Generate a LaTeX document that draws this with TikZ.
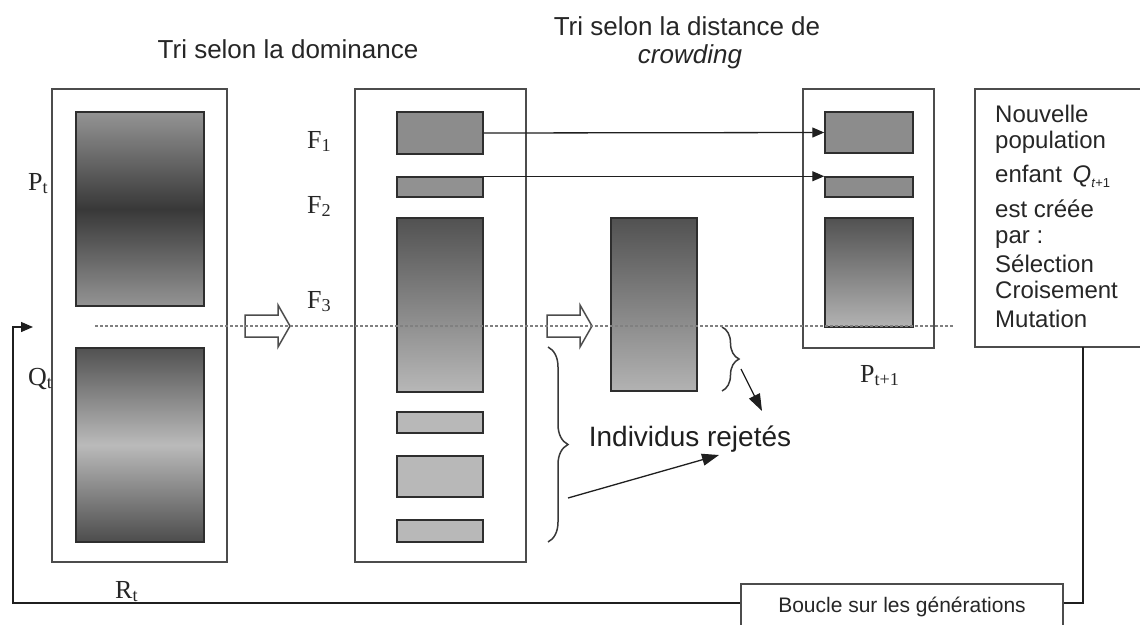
\documentclass[tikz,border=0pt]{standalone}
\usepackage{fontspec}
\setmainfont{Liberation Sans}
\newfontfamily\serifF{Liberation Serif}
\usetikzlibrary{arrows.meta,decorations.pathreplacing,shadings}
\begin{document}
\begin{tikzpicture}[x=1pt,y=-1pt,
  outer/.style={draw=black!70, line width=1.3pt, fill=white, inner sep=0pt},
  pop/.style={draw=black!82, line width=1.5pt, inner sep=0pt},
  conn/.style={draw=black!88, line width=1.3pt},
  tip/.style={-{Triangle[length=12pt,width=10pt]}},
  bigtip/.style={-{Triangle[length=17pt,width=12pt]}},
  hollow/.style={draw=black!70, line width=1.5pt},
  dotline/.style={draw=black!50, line width=1.2pt, dash pattern=on 3pt off 2pt},
  brc/.style={draw=black!78, line width=1.5pt, decorate},
  lbl/.style={font=\serifF\fontsize{26}{26}\selectfont, inner sep=0pt, anchor=base west, text=black!85},
  ttl/.style={font=\fontsize{26}{30}\selectfont, inner sep=0pt, anchor=base, text=black!85},
  nvl/.style={font=\fontsize{24}{26}\selectfont, inner sep=0pt, anchor=base west, text=black!85}
]
\useasboundingbox (0,0) rectangle (1140,624);
\clip (0,0) rectangle (1140,624);

% titles
\node[ttl] (t1) at (288,58) {Tri selon la dominance};
\node[ttl] (t2) at (687,35) {Tri selon la distance de};
\node[ttl, font=\fontsize{26}{30}\selectfont\itshape] (t3) at (690,63) {crowding};

% R_t
\node[outer, minimum width=175pt, minimum height=473pt] (rt) at (139.5,325.5) {};
\node[pop, minimum width=128pt, minimum height=194pt, top color=black!42, bottom color=black!42, middle color=black!78] (pt) at (140,209) {};
\node[pop, minimum width=128pt, minimum height=194pt, top color=black!68, bottom color=black!70, middle color=black!27] (qt) at (140,445) {};
\node[lbl] (lpt) at (28,190) {P\textsubscript{t}};
\node[lbl] (lqt) at (28,385) {Q\textsubscript{t}};
\node[lbl] (lrt) at (115,598) {R\textsubscript{t}};

% fronts
\node[outer, minimum width=171pt, minimum height=473pt] (fr) at (440.5,325.5) {};
\node[pop, minimum width=86pt, minimum height=42pt, fill=black!45] (f1) at (440,133) {};
\node[pop, minimum width=86pt, minimum height=20pt, fill=black!43] (f2) at (440,187) {};
\node[pop, minimum width=86pt, minimum height=174pt, top color=black!68, bottom color=black!28] (f3) at (440,305) {};
\node[pop, minimum width=86pt, minimum height=21pt, fill=black!28] (f4) at (440,422.5) {};
\node[pop, minimum width=86pt, minimum height=41pt, fill=black!28] (f5) at (440,476.5) {};
\node[pop, minimum width=86pt, minimum height=22pt, fill=black!28] (f6) at (440,531) {};
\node[lbl] (lf1) at (307,148) {F\textsubscript{1}};
\node[lbl] (lf2) at (307,213) {F\textsubscript{2}};
\node[lbl] (lf3) at (307,308) {F\textsubscript{3}};

% crowding-sorted front
\node[pop, minimum width=86pt, minimum height=173pt, top color=black!68, bottom color=black!30] (sel) at (654,304.5) {};

% P_{t+1}
\node[outer, minimum width=131pt, minimum height=259pt] (pn) at (868.5,218.5) {};
\node[pop, minimum width=88pt, minimum height=41pt, fill=black!45] (q1) at (869,132.5) {};
\node[pop, minimum width=88pt, minimum height=20pt, fill=black!45] (q2) at (869,187) {};
\node[pop, minimum width=88pt, minimum height=109pt, top color=black!68, bottom color=black!30] (q3) at (869,272.5) {};
\node[lbl] (lpn) at (860,382) {P\textsubscript{t+1}};

% new population box
\node[outer, minimum width=175pt, minimum height=258pt] (nv) at (1062.5,218) {};
\node[nvl] (n1) at (995,122) {Nouvelle};
\node[nvl] (n2) at (995,148) {population};
\node[nvl] (n3) at (995,182) {enfant\, \textit{Q}\raisebox{-0.45ex}{\fontsize{13}{13}\selectfont\textit{t}+1}};
\node[nvl] (n4) at (995,217) {est créée};
\node[nvl] (n5) at (995,243) {par :};
\node[nvl] (n6) at (995,272) {Sélection};
\node[nvl] (n7) at (995,298) {Croisement};
\node[nvl] (n8) at (995,327) {Mutation};

% loop box
\node[outer, minimum width=322pt, minimum height=46pt, font=\fontsize{21}{24}\selectfont, text=black!85] (boucle) at (902,607) {Boucle sur les générations};

% connectors F1,F2 -> P_{t+1}
\draw[conn, tip] (f1.east) -- (q1.west);
\draw[conn, tip] (f2.north east) -- (q2.north west);

% hollow arrows
\draw[hollow] (245,315) -- (278,315) -- (278,305) -- (290,326) -- (278,347) -- (278,337) -- (245,337) -- cycle;
\draw[hollow] (547,315) -- (580,315) -- (580,305) -- (592,326) -- (580,347) -- (580,337) -- (547,337) -- cycle;

% braces and rejected
\draw[brc, decoration={brace, amplitude=17pt}] (722,327) -- (722,391);
\draw[brc, decoration={brace, amplitude=20pt}] (548,347) -- (548,542);
\node[font=\fontsize{28}{30}\selectfont, inner sep=0pt, anchor=base, text=black!88] (rej) at (690,446) {Individus rejetés};
\coordinate (r1a) at (741,369);
\coordinate (r1b) at (762,411);
\coordinate (r2a) at (568,498);
\coordinate (r2b) at (719,455);
\draw[conn, bigtip] (r1a) -- (r1b);
\draw[conn, bigtip] (r2a) -- (r2b);

% generation loop
\coordinate (nvb) at (1083,347);
\coordinate (lp) at (13,327);
\coordinate (fb) at (33,327);
\draw[conn] (nvb) |- ([yshift=4pt]boucle.east);
\draw[conn, tip] ([yshift=4pt]boucle.west) -| (lp) -- (fb);

% cut line
\coordinate (d1) at (95,326);
\coordinate (d2) at (953,326);
\draw[dotline] (d1) -- (d2);
\end{tikzpicture}
\end{document}
